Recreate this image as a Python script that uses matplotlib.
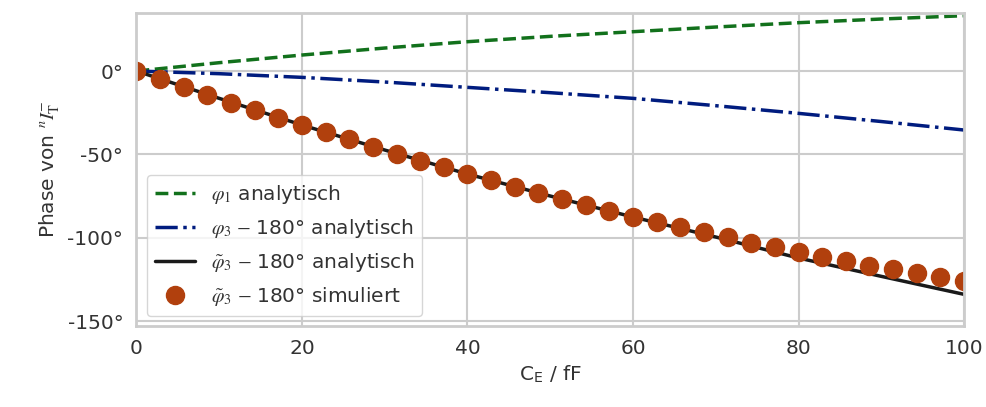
import matplotlib
matplotlib.use("Agg")
import matplotlib.pyplot as plt
import numpy as np
import seaborn as sns
from matplotlib.ticker import FuncFormatter

# analytic curves, every 10 fF
c_line = [0, 10, 20, 30, 40, 50, 60, 70, 80, 90, 100]
phi1 = [0, 5.0, 9.6, 13.8, 17.6, 20.8, 23.6, 26.4, 29.0, 31.2, 33.2]
phi3 = [0, -1.6, -3.8, -6.6, -9.8, -13.0, -16.4, -20.8, -25.4, -30.3, -35.4]
phi3_tilde = [0, -16.4, -32.4, -47.4, -61.8, -75.0, -87.6, -99.6, -112.2, -123.2, -134.0]

# simulated points (36 steps from 0 to 100 fF)
c_sim = [0, 2.86, 5.71, 8.57, 11.43, 14.29, 17.14, 20.0, 22.86, 25.71, 28.57, 31.43,
         34.29, 37.14, 40.0, 42.86, 45.71, 48.57, 51.43, 54.29, 57.14, 60.0, 62.86,
         65.71, 68.57, 71.43, 74.29, 77.14, 80.0, 82.86, 85.71, 88.57, 91.43, 94.29,
         97.14, 100.0]
phi3_sim = [0, -5.0, -9.8, -14.4, -19.0, -23.4, -28.0, -32.4, -36.8, -41.0, -45.4, -49.6,
            -53.8, -57.8, -61.8, -65.4, -69.4, -73.2, -76.8, -80.4, -83.8, -87.4, -90.6,
            -93.8, -96.8, -99.8, -102.9, -105.8, -108.4, -111.6, -114.2, -116.8, -119.0,
            -121.4, -123.8, -125.8]

sns.set_theme(style="whitegrid")
plt.rcParams['font.family'] = ['DejaVu Sans']
plt.rcParams['mathtext.fontset'] = 'stix'
plt.rcParams['font.size'] = 14.5
pal = sns.color_palette("dark")
txt = "#333333"

fig = plt.figure(figsize=(9.86, 4.07), dpi=100)
ax = fig.add_axes([0.1384, 0.199, 0.8393, 0.7698])

ax.plot(c_line, phi1, ls="--", lw=2.5, color=pal[2], label=r"$\varphi_1$ analytisch")
ax.plot(c_line, phi3, ls="-.", lw=2.5, color=pal[0], label=r"$\varphi_3\,-\,$180° analytisch")
ax.plot(c_line, phi3_tilde, ls="-", lw=2.5, color="#1a1a1a",
        label=r"$\tilde{\varphi}_3\,-\,$180° analytisch")
ax.plot(c_sim, phi3_sim, ls="none", marker="o", ms=13, color=pal[1],
        label=r"$\tilde{\varphi}_3\,-\,$180° simuliert")

ax.set_xlim(0, 100)
ax.set_ylim(-153, 35)
ax.set_yticks([0, -50, -100, -150])
ax.yaxis.set_major_formatter(FuncFormatter(lambda v, p: f"{int(v)}°"))
ax.tick_params(labelsize=14.5, colors=txt)
ax.set_xlabel(r"C$_\mathregular{E}$ / fF", fontsize=14.5, color=txt)
ax.set_ylabel(r"Phase von $^{n}I_\mathrm{T}^{-}$", fontsize=14.5, color=txt)

ax.grid(True, color="#cccccc", lw=1.5)
for s in ax.spines.values():
    s.set_color("#cccccc")
    s.set_linewidth(2)

leg = ax.legend(loc="lower left", fontsize=14.5, framealpha=0.8, edgecolor="#cccccc",
                labelspacing=0.55)
for t in leg.get_texts():
    t.set_color(txt)

fig.savefig("out.png", dpi=100)
